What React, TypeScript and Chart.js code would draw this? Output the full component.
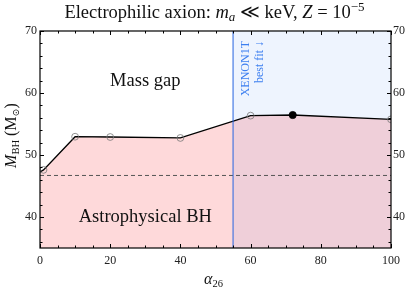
import React, { useEffect, useRef } from "react";
import { Chart, registerables } from "chart.js";

Chart.register(...registerables);

// ---- data ----
const alphaValues = [0, 1, 10, 20, 40, 60, 72, 100];
const massValues = [47.25, 47.6, 52.95, 52.9, 52.75, 56.35, 56.45, 55.75];
const markerShown = [false, true, true, true, true, true, true, true];
const bestFitIndex = 6;
const xenonAlpha = 55;
const astroLimit = 46.7;
const xRange = [0, 100];
const yRange = [35, 70];
const xTickValues = [0, 20, 40, 60, 80, 100];
const yTickValues = [40, 50, 60, 70];
const xMinorStep = 5;
const yMinorStep = 2;

const SERIF = "'Liberation Serif', 'DejaVu Serif', serif";

type Seg = { t: string; size: number; italic?: boolean; dy?: number };

function drawRich(ctx: CanvasRenderingContext2D, segs: Seg[], cx: number, y: number, color: string) {
  ctx.save();
  ctx.fillStyle = color;
  ctx.textBaseline = "alphabetic";
  ctx.textAlign = "left";
  let total = 0;
  for (const s of segs) {
    ctx.font = `${s.italic ? "italic " : ""}${s.size}px ${SERIF}`;
    total += ctx.measureText(s.t).width;
  }
  let x = cx - total / 2;
  for (const s of segs) {
    ctx.font = `${s.italic ? "italic " : ""}${s.size}px ${SERIF}`;
    ctx.fillText(s.t, x, y + (s.dy || 0));
    x += ctx.measureText(s.t).width;
  }
  ctx.restore();
}

const decorPlugin = {
  id: "decor",
  afterDatasetsDraw(chart: any) {
    const ctx: CanvasRenderingContext2D = chart.ctx;
    const { left, right, top, bottom } = chart.chartArea;
    const xs = chart.scales.x;
    const ys = chart.scales.y;
    ctx.save();
    // frame
    ctx.strokeStyle = "#000";
    ctx.lineWidth = 1.2;
    ctx.strokeRect(left, top, right - left, bottom - top);
    // ticks
    ctx.lineWidth = 1;
    ctx.beginPath();
    for (let v = xRange[0]; v <= xRange[1] + 1e-9; v += xMinorStep) {
      const px = Math.round(xs.getPixelForValue(v)) + 0.5;
      const len = xTickValues.includes(v) ? 4 : 2.5;
      ctx.moveTo(px, bottom);
      ctx.lineTo(px, bottom - len);
      ctx.moveTo(px, top);
      ctx.lineTo(px, top + len);
    }
    for (let v = yRange[0] + 1; v <= yRange[1] + 1e-9; v += yMinorStep) {
      const py = Math.round(ys.getPixelForValue(v)) + 0.5;
      const len = yTickValues.includes(v) ? 4 : 2.5;
      ctx.moveTo(left, py);
      ctx.lineTo(left + len, py);
      ctx.moveTo(right, py);
      ctx.lineTo(right - len, py);
    }
    ctx.stroke();

    // region labels
    const cx = xs.getPixelForValue(30);
    ctx.fillStyle = "#111";
    ctx.font = `18.5px ${SERIF}`;
    ctx.textAlign = "center";
    ctx.textBaseline = "alphabetic";
    ctx.fillText("Mass gap", cx, 86);
    ctx.fillText("Astrophysical BH", cx, 222);

    // XENON1T annotation
    const vx = xs.getPixelForValue(xenonAlpha);
    ctx.save();
    ctx.fillStyle = "#3d7ff0";
    ctx.font = `12px ${SERIF}`;
    ctx.textAlign = "right";
    ctx.textBaseline = "middle";
    ctx.translate(vx + 12.5, top + 10);
    ctx.rotate(-Math.PI / 2);
    ctx.fillText("XENON1T", 0, 0);
    ctx.fillText("best fit \u2193", 0, 14.5);
    ctx.restore();
    ctx.restore();

    // title
    drawRich(
      ctx,
      [
        { t: "Electrophilic axion: ", size: 18.5 },
        { t: "m", size: 18.5, italic: true },
        { t: "a", size: 13, italic: true, dy: 3 },
        { t: " \u226A keV, ", size: 18.5 },
        { t: "Z", size: 18.5, italic: true },
        { t: " = 10", size: 18.5 },
        { t: "\u22125", size: 13, dy: -7 },
      ],
      (left + right) / 2 - 1,
      18,
      "#111"
    );

    // x label
    drawRich(
      ctx,
      [
        { t: "\u03B1", size: 16, italic: true },
        { t: "26", size: 10.5, dy: 3 },
      ],
      (left + right) / 2 - 2,
      284,
      "#111"
    );

    // y label
    ctx.save();
    ctx.translate(16, (top + bottom) / 2 - 4);
    ctx.rotate(-Math.PI / 2);
    drawRich(
      ctx,
      [
        { t: "M", size: 16, italic: true },
        { t: "BH", size: 10.5, dy: 3 },
        { t: " (M", size: 16 },
        { t: "\u2299", size: 9.5, dy: 3 },
        { t: ")", size: 16 },
      ],
      0,
      0,
      "#111"
    );
    ctx.restore();
  },
};

export default function App() {
  const ref = useRef<HTMLCanvasElement | null>(null);
  useEffect(() => {
    if (!ref.current) return;
    const points = alphaValues.map((x, i) => ({ x, y: massValues[i] }));
    const chart = new Chart(ref.current, {
      type: "line",
      data: {
        datasets: [
          {
            label: "XENON1T region",
            data: [
              { x: xenonAlpha, y: yRange[1] },
              { x: xRange[1], y: yRange[1] },
            ],
            borderWidth: 0,
            pointRadius: 0,
            fill: "start",
            backgroundColor: "#eef4fe",
            order: 4,
          } as any,
          {
            label: "M_BH",
            data: points,
            borderColor: "#000",
            borderWidth: 1.3,
            fill: "start",
            backgroundColor: "rgba(250,0,10,0.15)",
            pointRadius: alphaValues.map((_, i) => (!markerShown[i] ? 0 : i === bestFitIndex ? 3.6 : 3.4)),
            pointBackgroundColor: alphaValues.map((_, i) => (i === bestFitIndex ? "#000" : "rgba(0,0,0,0)")),
            pointBorderColor: alphaValues.map((_, i) => (i === bestFitIndex ? "#000" : "#777")),
            pointBorderWidth: 0.8,
            order: 2,
          } as any,
          {
            label: "astro",
            data: [
              { x: xRange[0], y: astroLimit },
              { x: xRange[1], y: astroLimit },
            ],
            borderColor: "#555",
            borderWidth: 1,
            borderDash: [4, 3],
            pointRadius: 0,
            fill: false,
            order: 1,
          },
          {
            label: "xenon line",
            data: [
              { x: xenonAlpha, y: yRange[0] },
              { x: xenonAlpha, y: yRange[1] },
            ],
            borderColor: "#2563e0",
            borderWidth: 1,
            pointRadius: 0,
            fill: false,
            order: 0,
          },
        ],
      },
      options: {
        responsive: false,
        animation: false,
        layout: { padding: { top: 31, left: 0, right: 0, bottom: 0 } },
        plugins: { legend: { display: false }, tooltip: { enabled: false }, title: { display: false } },
        scales: {
          x: {
            type: "linear",
            min: xRange[0],
            max: xRange[1],
            grid: { display: false, drawTicks: false },
            border: { display: false },
            afterBuildTicks: (s: any) => {
              s.ticks = xTickValues.map((v) => ({ value: v }));
            },
            afterFit: (s: any) => {
              s.height = 44;
            },
            ticks: {
              padding: 6,
              maxRotation: 0,
              color: "#222",
              font: { family: SERIF, size: 12 },
              callback: (v: any) => String(v),
            },
          },
          y: {
            type: "linear",
            position: "left",
            min: yRange[0],
            max: yRange[1],
            grid: { display: false, drawTicks: false },
            border: { display: false },
            afterBuildTicks: (s: any) => {
              s.ticks = yTickValues.map((v) => ({ value: v }));
            },
            afterFit: (s: any) => {
              s.width = 40;
            },
            ticks: { padding: 3, color: "#222", font: { family: SERIF, size: 12 }, callback: (v: any) => String(v) },
          },
          y2: {
            type: "linear",
            position: "right",
            min: yRange[0],
            max: yRange[1],
            grid: { display: false, drawTicks: false },
            border: { display: false },
            afterBuildTicks: (s: any) => {
              s.ticks = yTickValues.map((v) => ({ value: v }));
            },
            afterFit: (s: any) => {
              s.width = 16;
            },
            ticks: { padding: 2, color: "#222", font: { family: SERIF, size: 12 }, callback: (v: any) => String(v) },
          },
        },
      } as any,
      plugins: [decorPlugin],
    });
    return () => chart.destroy();
  }, []);
  return (
    <div style={{ position: "fixed", left: 0, top: 0, width: 407, height: 292, background: "#fff" }}>
      <canvas ref={ref} width={407} height={292} />
    </div>
  );
}
